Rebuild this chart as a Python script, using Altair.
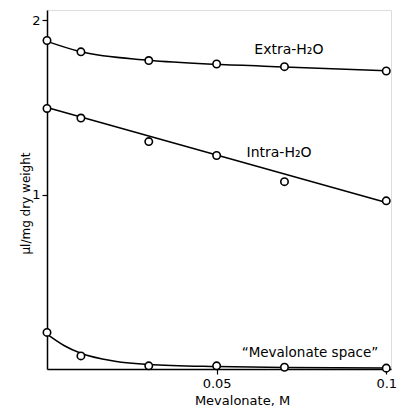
import altair as alt
import pandas as pd

# measured points
mev_x = [0.0, 0.01, 0.03, 0.05, 0.07, 0.1]
extra_y = [1.885, 1.82, 1.77, 1.75, 1.735, 1.71]
intra_y = [1.495, 1.44, 1.305, 1.225, 1.075, 0.965]
space_y = [0.21, 0.075, 0.018, 0.018, 0.01, 0.005]

# fitted curves
extra_cx = [0.0, 0.01, 0.03, 0.05, 0.07, 0.1]
extra_cy = [1.88, 1.82, 1.772, 1.748, 1.733, 1.712]
intra_cx = [0.0, 0.1]
intra_cy = [1.50, 0.955]
space_cx = [0.0, 0.005, 0.01, 0.02, 0.03, 0.05, 0.07, 0.1]
space_cy = [0.20, 0.135, 0.09, 0.045, 0.026, 0.014, 0.009, 0.006]

labels = ["Extra-H₂O", "Intra-H₂O", "\u201cMevalonate space\u201d"]
label_x = [0.0713, 0.0684, 0.0775]
label_y = [1.83, 1.239, 0.092]
label_size = [14, 14, 13.5]

pts = pd.DataFrame(
    [{"x": x, "y": y, "s": "extra"} for x, y in zip(mev_x, extra_y)]
    + [{"x": x, "y": y, "s": "intra"} for x, y in zip(mev_x, intra_y)]
    + [{"x": x, "y": y, "s": "space"} for x, y in zip(mev_x, space_y)]
)
curves = pd.DataFrame(
    [{"x": x, "y": y, "s": "extra"} for x, y in zip(extra_cx, extra_cy)]
    + [{"x": x, "y": y, "s": "intra"} for x, y in zip(intra_cx, intra_cy)]
    + [{"x": x, "y": y, "s": "space"} for x, y in zip(space_cx, space_cy)]
)
lab = pd.DataFrame({"x": label_x, "y": label_y, "t": labels, "fs": label_size})

FONT = "DejaVu Sans"
xs = alt.Scale(domain=[0, 0.1014], nice=False, zero=False)
ys = alt.Scale(domain=[0, 2.06], nice=False)

xax = alt.Axis(values=[0.05, 0.1], labelExpr="datum.value == 0.05 ? '0.05' : '0.1'",
               title="Mevalonate, M", grid=False, domainColor="black", domainWidth=1.5,
               tickColor="black", tickWidth=1.2, tickSize=5, labelFont=FONT, labelFontSize=13,
               labelColor="black", labelPadding=3, labelFlush=False, titleFont=FONT,
               titleFontSize=13, titleFontWeight="normal", titleColor="black", titleX=195,
               titleY=31, titleBaseline="middle", titleAlign="center")
yax = alt.Axis(values=[1, 2], format="d", title="µl/mg dry weight", grid=False,
               domainColor="black", domainWidth=1.5, tickColor="black", tickWidth=1.2,
               tickSize=5, labelFont=FONT, labelFontSize=13, labelColor="black",
               labelPadding=2, titleFont=FONT, titleFontSize=12, titleFontWeight="normal",
               titleColor="black", titleX=-22, titleY=193, titleAngle=270,
               titleBaseline="middle", titleAlign="center")

line = alt.Chart(curves).mark_line(color="black", strokeWidth=1.5, interpolate="monotone").encode(
    x=alt.X("x:Q", scale=xs, axis=xax),
    y=alt.Y("y:Q", scale=ys, axis=yax),
    detail="s:N",
)
points = alt.Chart(pts).mark_point(shape="circle", filled=False, fill="white", fillOpacity=1,
                                    color="black", strokeWidth=1.6, size=55).encode(
    x=alt.X("x:Q", scale=xs),
    y=alt.Y("y:Q", scale=ys),
)
text = alt.Chart(lab).mark_text(font=FONT, color="black", align="center",
                                baseline="middle").encode(
    x=alt.X("x:Q", scale=xs),
    y=alt.Y("y:Q", scale=ys),
    text="t:N",
    size=alt.Size("fs:Q", scale=None, legend=None),
)

chart = (line + points + text).properties(
    width=344, height=359,
    autosize=alt.AutoSizeParams(type="none"),
    padding={"left": 39, "top": 2, "right": 6, "bottom": 38},
).configure_view(stroke=None).configure(background="white")

chart.save("out.html", embed_options={"renderer": "svg", "actions": False})
